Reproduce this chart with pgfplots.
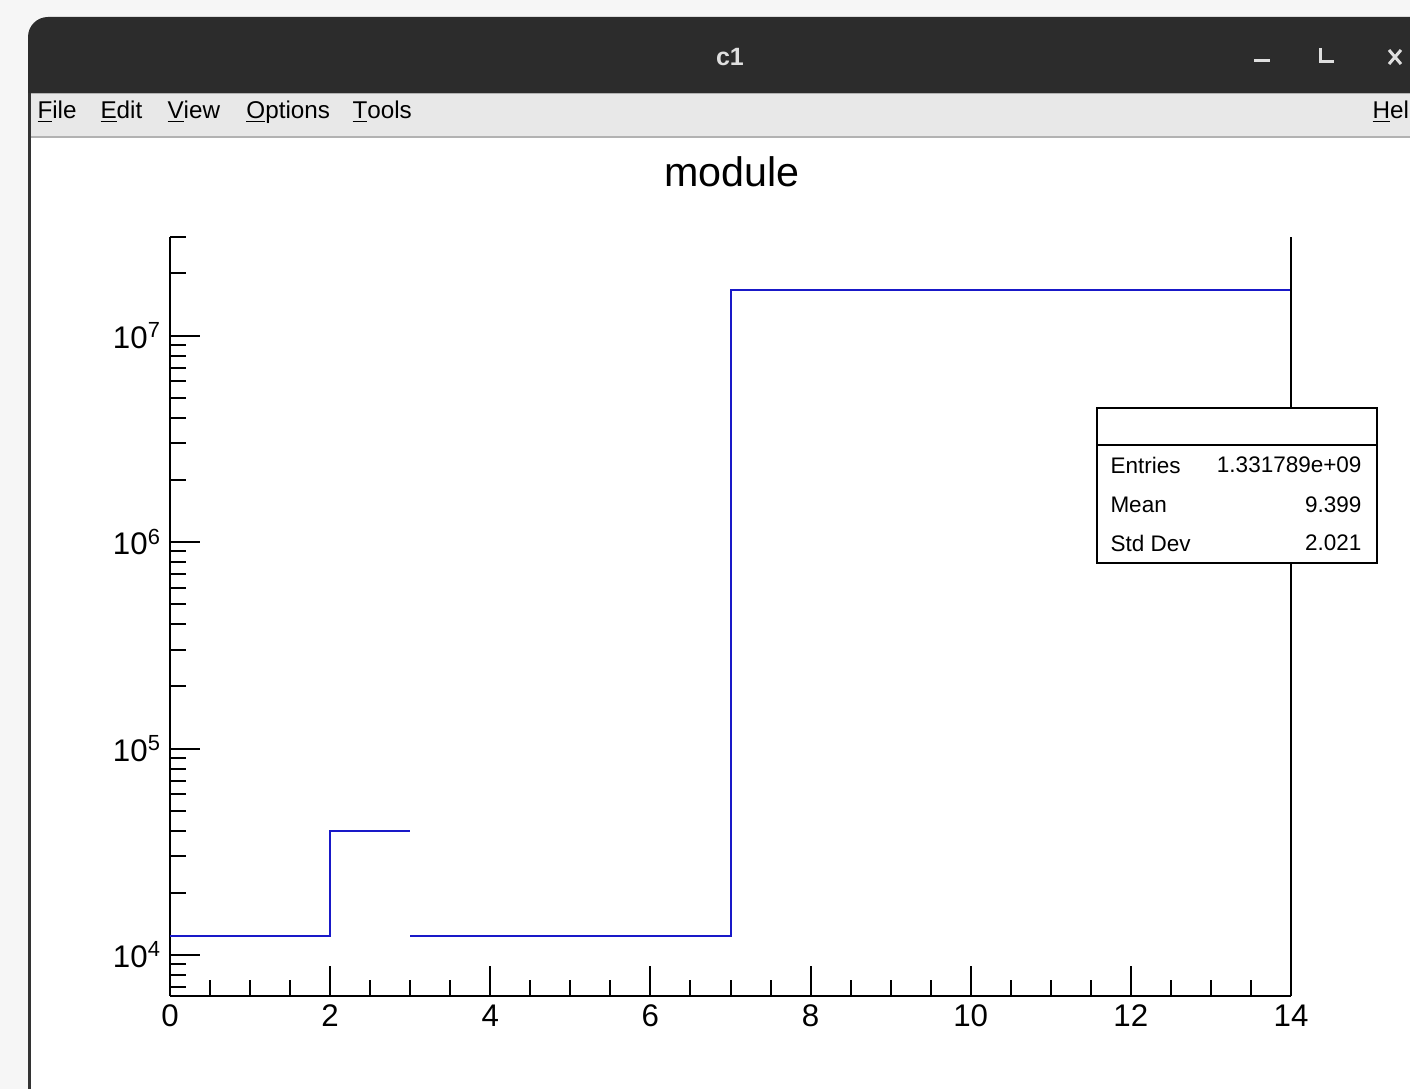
\documentclass[border=0pt]{standalone}
\usepackage{pgfplots}
\pgfplotsset{compat=1.18}
\usepackage{fontspec}
\setmainfont{Liberation Sans}
\definecolor{rootblue}{RGB}{25,25,200}
\definecolor{titlebar}{RGB}{44,44,44}
\definecolor{menubar}{RGB}{232,232,232}
\definecolor{outerbg}{RGB}{246,246,246}
\begin{document}
\begin{tikzpicture}
\clip (0,0) rectangle (564pt,-435.6pt);
\begin{scope}[x=0.4pt,y=-0.4pt]
\fill[outerbg] (0,0) rectangle (1410,1089);
\fill[white] (30,93) rectangle (1420,1100);
\fill[titlebar, rounded corners=8pt] (28,17) rectangle (1440,130);
\fill[menubar] (28,93) rectangle (1420,137);
\draw[gray!60, line width=0.8pt] (30,137) -- (1420,137);
\draw[gray!60, line width=0.4pt] (30,94) -- (1420,94);
\draw[gray!40!black, line width=1.2pt] (29,93) -- (29,1100);
\node[text=gray!25, font=\fontsize{10}{12}\selectfont\bfseries] at (730,57) {c1};
\draw[gray!25, line width=1.2pt] (1254,61) -- (1270,61);
\draw[gray!25, line width=1.2pt] (1320,48) -- (1320,62) -- (1334,62);
\draw[gray!25, line width=1.2pt] (1389,50) -- (1401,64) (1389,64) -- (1401,50);
\begin{scope}[every node/.style={anchor=west, inner sep=0pt, font=\fontsize{9.7}{11}\selectfont}]
\node at (37,112) {\underline{F}ile};
\node at (100,112) {\underline{E}dit};
\node at (167,112) {\underline{V}iew};
\node at (246,112) {\underline{O}ptions};
\node at (352,112) {\underline{T}ools};
\node at (1372,112) {\underline{H}elp};
\end{scope}
\node[font=\fontsize{16.5}{19}\selectfont] at (732,172) {module};
\end{scope}

\begin{axis}[
  at={(68pt,-398.4pt)}, anchor=south west,
  width=448.4pt, height=303.6pt, scale only axis,
  xmin=0, xmax=14,
  ymode=log, ymin=6332, ymax=3.0e7,
  axis x line*=bottom, axis y line*=left,
  axis line style={line width=0.8pt},
  tick style={line width=0.8pt, black},
  tick align=inside,
  major tick length=12pt, minor tick length=6.5pt,
  xtick={0,2,4,6,8,10,12,14},
  minor x tick num=3,
  ytick={1e4,1e5,1e6,1e7},
  yticklabels={10\textsuperscript{4},10\textsuperscript{5},10\textsuperscript{6},10\textsuperscript{7}},
  minor ytick={7e3,8e3,9e3,2e4,3e4,4e4,5e4,6e4,7e4,8e4,9e4,2e5,3e5,4e5,5e5,6e5,7e5,8e5,9e5,2e6,3e6,4e6,5e6,6e6,7e6,8e6,9e6,2e7,3e7},
  /pgf/number format/assume math mode=true,
  ticklabel style={font=\fontsize{12.5}{15}\selectfont},
  clip=false,
]
\addplot[const plot, rootblue, line width=0.8pt] coordinates {(0,12370) (2,39860) (3,39860)};
\addplot[const plot, rootblue, line width=0.8pt] coordinates {(3,12370) (7,1.652e7) (14,1.652e7)};
\draw[line width=0.8pt] (rel axis cs:1,0) -- (rel axis cs:1,1);
\end{axis}

\begin{scope}[x=0.4pt,y=-0.4pt]
\filldraw[fill=white, draw=black, line width=0.8pt] (1097,408) rectangle (1377,563);
\draw[line width=0.8pt] (1097,445) -- (1377,445);
\begin{scope}[every node/.style={inner sep=0pt, font=\fontsize{9}{11}\selectfont}]
\node[anchor=west] at (1110,465) {Entries};
\node[anchor=west] at (1110,505) {Mean};
\node[anchor=west] at (1110,543) {Std Dev};
\node[anchor=east] at (1362,465) {1.331789e+09};
\node[anchor=east] at (1362,505) {9.399};
\node[anchor=east] at (1362,543) {2.021};
\end{scope}
\end{scope}
\end{tikzpicture}
\end{document}
